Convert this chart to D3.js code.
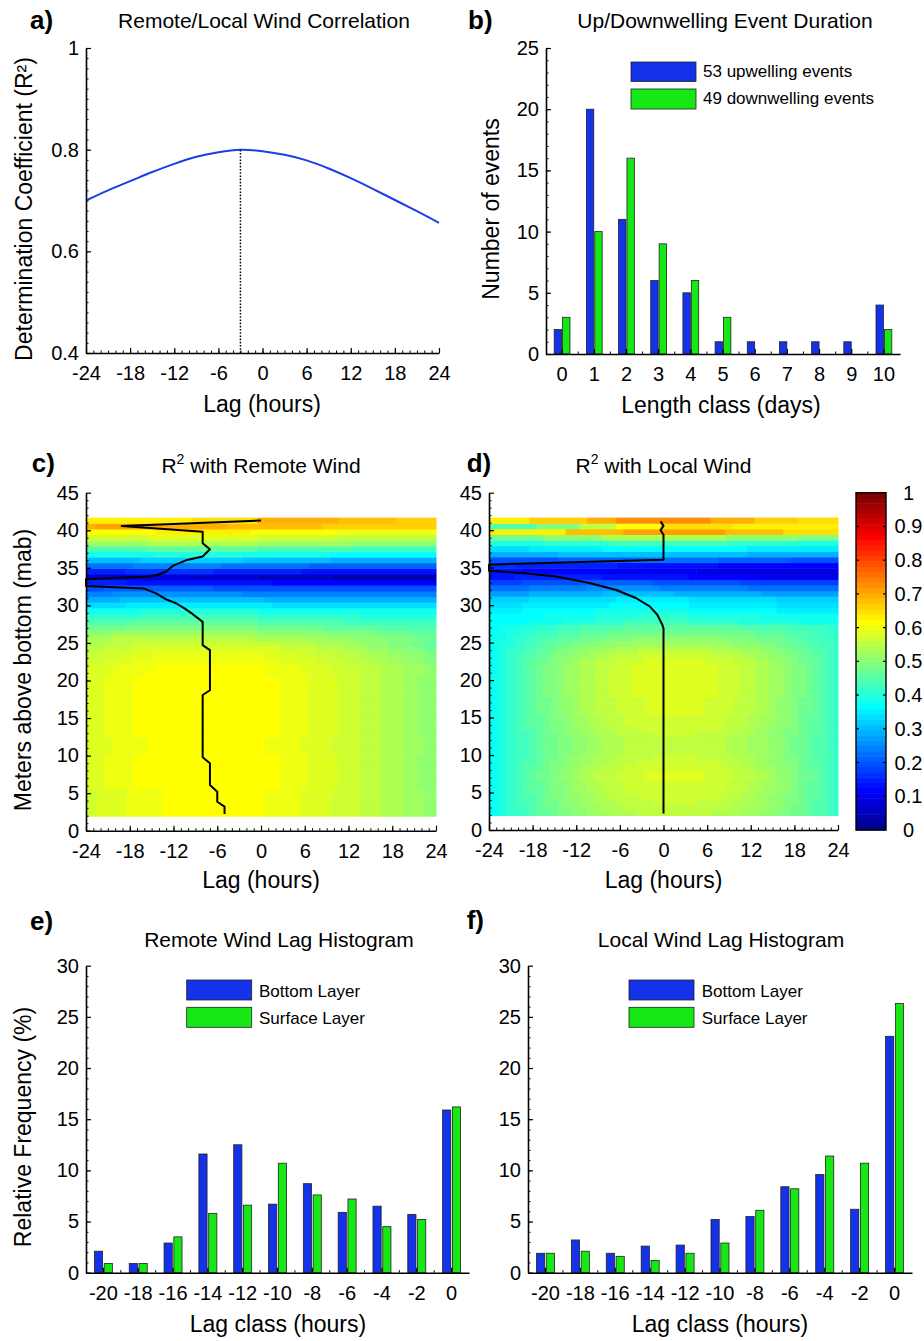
<!DOCTYPE html>
<html><head><meta charset="utf-8">
<script src="https://cdn.jsdelivr.net/npm/d3@7"></script>
<style>body{margin:0;background:#fff}</style>
</head><body>
<svg id="fig" width="924" height="1341" xmlns="http://www.w3.org/2000/svg"></svg>
<script>
// ================= DATA =================
// a) Remote/Local wind correlation vs lag
const corrLags = [-24,-21,-18,-15,-12,-9,-6,-3,0,3,6,9,12,15,18,21,24];
const corrR2   = [0.700,0.720,0.738,0.756,0.772,0.786,0.795,0.800,0.797,0.790,0.779,0.763,0.744,0.723,0.701,0.679,0.656];
const corrPeakLag = -3, corrPeakR2 = 0.800;

// b) event duration histogram
const lengthClasses = [0,1,2,3,4,5,6,7,8,9,10];
const upwellingEvents   = [2,20,11,6,5,1,1,1,1,1,4];
const downwellingEvents = [3,10,16,9,6,3,0,0,0,0,2];
const durationLegend = ["53 upwelling events","49 downwelling events"];

// e/f) lag histograms (%)
const lagClasses = [-20,-18,-16,-14,-12,-10,-8,-6,-4,-2,0];
const remoteBottom  = [2.1,0.9,2.9,11.6,12.5,6.7,8.7,5.9,6.5,5.7,15.9];
const remoteSurface = [0.9,0.9,3.5,5.8,6.6,10.7,7.6,7.2,4.5,5.2,16.2];
const localBottom   = [1.9,3.2,1.9,2.6,2.7,5.2,5.5,8.4,9.6,6.2,23.1];
const localSurface  = [1.9,2.1,1.6,1.2,1.9,2.9,6.1,8.2,11.4,10.7,26.3];
const layerLegend = ["Bottom Layer","Surface Layer"];

// c/d) R2 maps: lag columns, depth bins (mab)
const heatLags = [-24,-23,-22,-21,-20,-19,-18,-17,-16,-15,-14,-13,-12,-11,-10,-9,-8,-7,-6,-5,-4,-3,-2,-1,0,1,2,3,4,5,6,7,8,9,10,11,12,13,14,15,16,17,18,19,20,21,22,23,24];
const depthBins = [2.3,3.05,3.8,4.55,5.3,6.05,6.8,7.55,8.3,9.05,9.8,10.55,11.3,12.05,12.8,13.55,14.3,15.05,15.8,16.55,17.3,18.05,18.8,19.55,20.3,21.05,21.8,22.55,23.3,24.05,24.8,25.55,26.3,27.05,27.8,28.55,29.3,30.05,30.8,31.55,32.3,33.05,33.8,34.55,35.3,36.05,36.8,37.55,38.3,39.05,39.8,40.55,41.3];
const binHalf = 0.375;
// each row: run-length pairs [level, count,...] along heatLags; R2 = (level+0.5)/64
const rA=[36,2,37,4,38,5,39,14,38,5,37,4,36,4,35,3,34,3,33,3,32,2];
const rB=[37,3,38,4,39,20,38,4,37,4,36,3,35,3,34,3,33,2,32,3];
const rW=[37,4,38,5,39,16,38,5,37,4,36,4,35,3,34,3,33,3,32,2];
const remoteR2Rows = [rA,rA,rA,rA,rA, rB,rB,rB,rB,rB,rB, rW,rW,rW, rB,rB,rB,rB,rB,rB,rB,rB,rB,rB,rB, rW,
 [36,1,37,4,38,5,39,15,38,5,37,4,36,4,35,3,34,3,33,3,32,2],
 [36,3,37,4,38,20,37,5,36,4,35,3,34,3,33,3,32,2,31,2],
 [35,1,36,4,37,5,38,15,37,5,36,4,35,4,34,3,33,3,32,3,31,2],
 [35,3,36,4,37,20,36,5,35,4,34,3,33,3,32,3,31,2,30,2],
 [34,3,35,4,36,20,35,5,34,4,33,3,32,3,31,3,30,2,29,2],
 [34,4,35,19,34,8,33,6,32,5,31,4,30,3],
 [32,4,33,20,32,9,31,7,30,5,29,4],
 [30,6,31,18,30,9,29,8,28,8],
 [28,7,29,17,28,12,27,13],
 [26,8,27,16,26,14,25,11],
 [24,8,25,16,24,25],
 [21,6,22,20,21,23],
 [18,5,19,20,18,24],
 [15,4,16,18,15,27],
 [12,3,13,15,12,31],
 [9,6,8,20,7,23],
 [4,4,5,10,4,10,3,10,2,15],
 [9,6,10,12,9,12,8,19],
 [14,7,15,12,14,12,13,18],
 [19,8,20,14,19,12,18,15],
 [24,10,25,12,24,12,23,15],
 [28,9,29,15,28,13,27,12],
 [33,9,34,15,33,13,32,12],
 [36,9,37,15,36,11,35,14],
 [39,10,40,13,39,12,38,14],
 [44,2,45,8,44,10,43,13,42,16],
 [40,15,41,9,44,11,43,8,42,6]
];
const lA=[23,2,24,2,25,3,26,3,27,3,28,6,29,16,28,7,27,5,26,2];
const lB=[23,1,24,2,25,2,26,2,27,3,28,3,29,4,30,20,29,4,28,3,27,3,26,2];
const lC=[23,1,24,2,25,1,26,2,27,2,28,2,29,3,30,3,31,4,32,13,31,4,30,4,29,2,28,2,27,3,26,1];
const lD=[23,1,24,1,25,2,26,1,27,2,28,1,29,2,30,2,31,3,32,3,33,16,32,4,31,2,30,2,29,2,28,2,27,2,26,1];
const lE=[23,1,24,1,25,1,26,2,27,1,28,1,29,2,30,2,31,2,32,2,33,3,34,4,35,8,34,5,33,3,32,2,31,2,30,1,29,2,28,2,27,1,26,1];
const lF=[23,1,24,1,25,1,26,2,27,1,28,1,29,2,30,1,31,2,32,2,33,3,34,4,35,10,34,4,33,3,32,2,31,2,30,2,29,1,28,2,27,1,26,1];
const lG=[23,1,24,1,25,1,26,1,27,2,28,1,29,1,30,2,31,2,32,2,33,2,34,3,35,14,34,3,33,3,32,2,31,1,30,2,29,1,28,2,27,1,26,1];
const lH=[23,1,24,1,25,1,26,1,27,2,28,1,29,1,30,2,31,1,32,2,33,2,34,3,35,5,36,6,35,5,34,3,33,2,32,2,31,2,30,1,29,1,28,2,27,1,26,1];
const lI=[23,1,24,1,25,1,26,1,27,1,28,2,29,1,30,1,31,2,32,2,33,2,34,2,35,4,36,11,35,3,34,2,33,2,32,2,31,2,30,1,29,2,28,1,27,1,26,1];
const lJ=[23,1,24,1,25,1,26,1,27,1,28,1,29,2,30,1,31,2,32,1,33,2,34,2,35,3,36,14,35,3,34,2,33,2,32,2,31,1,30,1,29,2,28,1,27,1,26,1];
const lK=[23,1,24,1,25,1,26,1,27,1,28,1,29,1,30,2,31,1,32,2,33,1,34,2,35,3,36,4,37,8,36,4,35,3,34,2,33,1,32,2,31,1,30,2,29,1,28,1,27,1,26,1];
const lL=[23,1,24,1,25,1,26,1,27,1,28,1,29,1,30,1,31,2,32,1,33,2,34,2,35,2,36,3,37,12,36,3,35,2,34,2,33,2,32,1,31,2,30,1,29,1,28,1,27,1,26,1];
const localR2Rows = [lF,lG,lH,lI,lJ,lJ,lK,lK,lJ,lI,lH,lG,lG,lG,lH,lI,lJ,lJ,lK,lK,lK,lL,lL,lL,lL,lL,lL,lK,lI,lF,lD,lC,lB,lA,
 [23,6,24,5,25,4,26,4,27,9,26,7,25,8,24,6],
 [23,8,24,7,25,6,26,7,25,10,24,11],
 [22,5,23,10,24,13,23,12,22,9],
 [21,5,22,12,23,11,22,12,21,9],
 [20,6,21,12,22,10,21,12,20,9],
 [17,6,18,10,19,10,18,12,17,11],
 [14,6,15,8,16,10,15,12,14,13],
 [11,5,12,8,13,10,12,12,11,14],
 [8,4,9,12,8,12,7,10,6,11],
 [8,5,7,12,6,12,5,20],
 [10,4,9,14,8,14,7,17],
 [12,10,13,10,14,12,13,10,12,7],
 [18,10,19,26,18,13],
 [21,6,22,10,23,20,22,13],
 [25,8,26,9,27,17,26,9,25,6],
 [30,8,32,8,34,17,32,10,31,6],
 [40,11,43,8,45,14,43,8,41,8],
 [28,7,31,6,35,5,39,6,41,10,40,15],
 [40,6,42,8,44,4,46,13,44,6,42,6,41,6]
];
// lag of maximum R2 per depth (black lines)
const remoteMaxDepth = [41.3,40.57,39.8,38.27,37.47,36.5,36.0,35.25,34.5,34.05,33.83,33.47,32.58,32.23,31.6,30.8,30.28,29.6,28.86,27.8,24.7,24.05,18.7,18.07,9.77,8.97,6.08,5.19,3.86,3.2,2.22];
const remoteMaxLag   = [0,-19.1,-8,-8,-7,-8,-10.3,-12.1,-13,-14.2,-15.3,-24,-24,-16,-14.4,-13,-11.65,-10.5,-9.4,-8,-8,-7,-7,-8,-8,-7,-7,-6,-6,-5,-5];
const localMaxDepth  = [41.17,40.58,40.0,39.4,36.06,35.4,34.6,34.28,33.83,32.95,32.05,30.95,29.83,28.72,27.39,26.9,2.2];
const localMaxLag    = [-0.4,0,-0.4,0,0,-24,-24,-19.4,-14.8,-10.2,-6.6,-3.8,-1.9,-0.85,-0.16,0,0];

// tick labels
const lagTicks = [-24,-18,-12,-6,0,6,12,18,24];
const r2Ticks = [0.4,0.6,0.8,1];
const eventTicks = [0,5,10,15,20,25];
const mabTicks = [0,5,10,15,20,25,30,35,40,45];
const freqTicks = [0,5,10,15,20,25,30];
const cbTicks = [0,0.1,0.2,0.3,0.4,0.5,0.6,0.7,0.8,0.9,1];
const cbLabels = ["0","0.1","0.2","0.3","0.4","0.5","0.6","0.7","0.8","0.9","1"];

// ================= DRAWING =================
const FONT = '"Liberation Sans", Arial, Helvetica, sans-serif';
const BLUE = "#1432ea", GREEN = "#16e816", LINEBLUE = "#1e3de6";
const svg = d3.select("#fig");

function jet64(k){
  let r,g,b;
  if(k<=7){r=0;g=0;b=(k+9)/16;}
  else if(k<=23){r=0;g=(k-7)/16;b=1;}
  else if(k<=39){r=(k-23)/16;g=1;b=1-(k-23)/16;}
  else if(k<=55){r=1;g=1-(k-39)/16;b=0;}
  else {r=1-(k-55)/16;g=0;b=0;}
  return d3.rgb(r*255,g*255,b*255).formatHex();
}
const jetColor = d3.scaleQuantize().domain([0,1]).range(d3.range(64).map(jet64));

function styleAxis(g, fs){
  g.select(".domain").attr("stroke","#000").attr("stroke-width",1.6);
  g.selectAll(".tick line").attr("stroke","#000").attr("stroke-width",1.2);
  g.selectAll(".tick text").attr("font-size",fs||20).attr("font-family",FONT).attr("fill","#000");
}
function yAxis(scale, x0, major, fmt, minor){
  if(minor){
    const m = svg.append("g").attr("transform",`translate(${x0},0)`)
      .call(d3.axisLeft(scale).tickValues(minor).tickSizeInner(-2.5).tickSizeOuter(0).tickFormat(""));
    m.select(".domain").remove(); m.selectAll("line").attr("stroke","#000").attr("stroke-width",1);
  }
  const g = svg.append("g").attr("transform",`translate(${x0},0)`)
    .call(d3.axisLeft(scale).tickValues(major).tickFormat(fmt).tickSizeInner(-5).tickSizeOuter(0).tickPadding(7));
  styleAxis(g); return g;
}
function xAxis(scale, y0, major, fmt, minor){
  if(minor){
    const m = svg.append("g").attr("transform",`translate(0,${y0})`)
      .call(d3.axisBottom(scale).tickValues(minor).tickSizeInner(-2.5).tickSizeOuter(0).tickFormat(""));
    m.select(".domain").remove(); m.selectAll("line").attr("stroke","#000").attr("stroke-width",1);
  }
  const g = svg.append("g").attr("transform",`translate(0,${y0})`)
    .call(d3.axisBottom(scale).tickValues(major).tickFormat(fmt).tickSizeInner(-5).tickSizeOuter(0).tickPadding(13));
  styleAxis(g); return g;
}
function bandMinor(xb, y0){
  xb.domain().slice(1).forEach(c=>{
    svg.append("line").attr("x1",xb(c)).attr("x2",xb(c)).attr("y1",y0).attr("y2",y0-2.5)
      .attr("stroke","#000").attr("stroke-width",1);
  });
}
function txt(x,y,s,opts){
  opts = opts||{};
  const t = svg.append("text").attr("x",x).attr("y",y).text(s)
    .attr("font-family",FONT).attr("font-size",opts.fs||20).attr("fill","#000")
    .attr("text-anchor",opts.anchor||"middle");
  if(opts.bold) t.attr("font-weight","bold");
  return t;
}
function ylabel(x,y,s){
  svg.append("text").attr("transform",`translate(${x},${y}) rotate(-90)`).attr("text-anchor","middle")
    .attr("font-family",FONT).attr("font-size",23).attr("fill","#000").text(s);
}
function supTitle(x,y,rest){
  const t = svg.append("text").attr("x",x).attr("y",y).attr("text-anchor","middle")
    .attr("font-family",FONT).attr("font-size",21).attr("fill","#000");
  t.append("tspan").text("R");
  t.append("tspan").attr("font-size",14).attr("dy",-9).text("2");
  t.append("tspan").attr("dy",9).text(rest);
}
const fmtInt = d=>String(d);
const TFS = 21;

// ---------- panel a ----------
{
  const x = d3.scaleLinear().domain([-24,24]).range([86,439]);
  const y = d3.scaleLinear().domain([0.4,1]).range([353,48]);
  svg.append("path").datum(corrLags.map((l,i)=>[l,corrR2[i]]))
    .attr("d", d3.line().x(d=>x(d[0])).y(d=>y(d[1])).curve(d3.curveNatural))
    .attr("fill","none").attr("stroke",LINEBLUE).attr("stroke-width",2);
  svg.append("line").attr("x1",x(corrPeakLag)).attr("x2",x(corrPeakLag)).attr("y1",y(0.4)).attr("y2",y(corrPeakR2))
    .attr("stroke","#000").attr("stroke-width",1.5).attr("stroke-dasharray","1.6,1.6");
  yAxis(y, 86, r2Ticks, d=>d===1?"1":d.toFixed(1), d3.range(0.42,1.0,0.02));
  xAxis(x, 353, lagTicks, fmtInt, d3.range(-23,24,1));
  txt(30,29,"a)",{fs:26,bold:true,anchor:"start"});
  txt(264,28,"Remote/Local Wind Correlation",{fs:TFS});
  txt(262,412,"Lag (hours)",{fs:23});
  ylabel(32,209,"Determination Coefficient (R\u00B2)");
}

// ---------- panel b ----------
{
  const x = d3.scaleBand().domain(lengthClasses).range([546,900]);
  const y = d3.scaleLinear().domain([0,25]).range([354,48]);
  const bw = x.bandwidth()*0.23;
  lengthClasses.forEach((c,i)=>{
    const cx = x(c)+x.bandwidth()/2;
    if(upwellingEvents[i]>0) svg.append("rect").attr("x",cx-bw-0.5).attr("y",y(upwellingEvents[i])).attr("width",bw)
      .attr("height",y(0)-y(upwellingEvents[i])).attr("fill",BLUE).attr("stroke","#222").attr("stroke-width",0.8);
    if(downwellingEvents[i]>0) svg.append("rect").attr("x",cx+0.5).attr("y",y(downwellingEvents[i])).attr("width",bw)
      .attr("height",y(0)-y(downwellingEvents[i])).attr("fill",GREEN).attr("stroke","#222").attr("stroke-width",0.8);
  });
  yAxis(y, 546, eventTicks, fmtInt, d3.range(1,25,1));
  xAxis(x, 354, lengthClasses, fmtInt, null);
  bandMinor(x, 354);
  // legend
  svg.append("rect").attr("x",631).attr("y",62).attr("width",65).attr("height",19.5).attr("fill",BLUE).attr("stroke","#222").attr("stroke-width",0.8);
  svg.append("rect").attr("x",631).attr("y",89).attr("width",65).attr("height",20).attr("fill",GREEN).attr("stroke","#222").attr("stroke-width",0.8);
  txt(703,77,durationLegend[0],{fs:17,anchor:"start"});
  txt(703,104,durationLegend[1],{fs:17,anchor:"start"});
  txt(468,29,"b)",{fs:26,bold:true,anchor:"start"});
  txt(725,28,"Up/Downwelling Event Duration",{fs:TFS});
  txt(721,413,"Length class (days)",{fs:23});
  ylabel(499,209,"Number of events");
}

// ---------- heat maps ----------
function drawHeat(x, y, rows){
  const g = svg.append("g");
  rows.forEach((runs,j)=>{
    const z = depthBins[j];
    const yTop = y(z+binHalf), yBot = y(z-binHalf);
    let col = 0;
    for(let p=0;p<runs.length;p+=2){
      const k = runs[p], n = runs[p+1];
      if(col>48) break;
      const last = Math.min(col+n-1,48);
      const x0 = x(Math.max(-24, heatLags[col]-0.5)), x1 = x(Math.min(24, heatLags[last]+0.5));
      g.append("rect").attr("x",x0).attr("y",yTop).attr("width",x1-x0+0.5).attr("height",yBot-yTop+0.5)
        .attr("fill",jetColor((k+0.5)/64));
      col += n;
    }
  });
}
function maxLine(x,y,depths,lags){
  svg.append("path").datum(depths.map((d,i)=>[lags[i],d]))
    .attr("d", d3.line().x(d=>x(d[0])).y(d=>y(d[1])))
    .attr("fill","none").attr("stroke","#000").attr("stroke-width",2).attr("stroke-linejoin","round");
}
// panel c
{
  const x = d3.scaleLinear().domain([-24,24]).range([86,436]);
  const y = d3.scaleLinear().domain([0,45]).range([830.7,492.7]);
  drawHeat(x,y,remoteR2Rows);
  maxLine(x,y,remoteMaxDepth,remoteMaxLag);
  yAxis(y, 86, mabTicks, fmtInt, d3.range(1,45,1));
  xAxis(x, 830.7, lagTicks, fmtInt, d3.range(-23,24,1));
  txt(31.7,472,"c)",{fs:26,bold:true,anchor:"start"});
  supTitle(261,473," with Remote Wind");
  txt(261,888,"Lag (hours)",{fs:23});
  ylabel(31,670,"Meters above bottom (mab)");
}
// panel d
{
  const x = d3.scaleLinear().domain([-24,24]).range([489,838]);
  const y = d3.scaleLinear().domain([0,45]).range([830,492.7]);
  drawHeat(x,y,localR2Rows);
  maxLine(x,y,localMaxDepth,localMaxLag);
  yAxis(y, 489, mabTicks, fmtInt, d3.range(1,45,1));
  xAxis(x, 830, lagTicks, fmtInt, d3.range(-23,24,1));
  txt(466.7,472,"d)",{fs:26,bold:true,anchor:"start"});
  supTitle(663.5,473," with Local Wind");
  txt(663.5,888,"Lag (hours)",{fs:23});
}
// colorbar
{
  const y = d3.scaleLinear().domain([0,1]).range([830,492.7]);
  const x0 = 856, x1 = 886;
  d3.range(64).forEach(k=>{
    svg.append("rect").attr("x",x0).attr("width",x1-x0).attr("y",y((k+1)/64)).attr("height",y(k/64)-y((k+1)/64)+0.5)
      .attr("fill",jetColor((k+0.5)/64));
  });
  svg.append("rect").attr("x",x0).attr("y",y(1)).attr("width",x1-x0).attr("height",y(0)-y(1))
    .attr("fill","none").attr("stroke","#000").attr("stroke-width",1.4);
  cbTicks.forEach((v,i)=>{
    if(v>0 && v<1){
      svg.append("line").attr("x1",x0).attr("x2",x0+3).attr("y1",y(v)).attr("y2",y(v)).attr("stroke","#000").attr("stroke-width",1.2);
      svg.append("line").attr("x1",x1-3).attr("x2",x1).attr("y1",y(v)).attr("y2",y(v)).attr("stroke","#000").attr("stroke-width",1.2);
    }
    txt(908.5,y(v)+7,cbLabels[i]);
  });
}

// ---------- lag histograms ----------
function lagHist(xr, bottom, surface, legendX, textX){
  const x = d3.scaleBand().domain(lagClasses).range(xr);
  const y = d3.scaleLinear().domain([0,30]).range([1272.7,965.7]);
  const bw = x.bandwidth()*0.235;
  lagClasses.forEach((c,i)=>{
    const cx = x(c)+x.bandwidth()/2;
    svg.append("rect").attr("x",cx-bw-0.8).attr("y",y(bottom[i])).attr("width",bw).attr("height",y(0)-y(bottom[i]))
      .attr("fill",BLUE).attr("stroke","#222").attr("stroke-width",0.8);
    svg.append("rect").attr("x",cx+0.8).attr("y",y(surface[i])).attr("width",bw).attr("height",y(0)-y(surface[i]))
      .attr("fill",GREEN).attr("stroke","#222").attr("stroke-width",0.8);
  });
  yAxis(y, xr[0], freqTicks, fmtInt, d3.range(1,30,1));
  xAxis(x, 1272.7, lagClasses, fmtInt, null);
  bandMinor(x, 1272.7);
  svg.append("rect").attr("x",legendX).attr("y",980).attr("width",65).attr("height",20).attr("fill",BLUE).attr("stroke","#222").attr("stroke-width",0.8);
  svg.append("rect").attr("x",legendX).attr("y",1007.3).attr("width",65).attr("height",20).attr("fill",GREEN).attr("stroke","#222").attr("stroke-width",0.8);
  txt(textX,997,layerLegend[0],{fs:17,anchor:"start"});
  txt(textX,1024,layerLegend[1],{fs:17,anchor:"start"});
}
lagHist([86,469], remoteBottom, remoteSurface, 186.7, 259);
txt(30,930,"e)",{fs:26,bold:true,anchor:"start"});
txt(279,947,"Remote Wind Lag Histogram",{fs:TFS});
txt(278,1332,"Lag class (hours)",{fs:23});
ylabel(31,1127,"Relative Frequency (%)");

lagHist([528,912], localBottom, localSurface, 629, 701.7);
txt(466.7,929,"f)",{fs:26,bold:true,anchor:"start"});
txt(721,947,"Local Wind Lag Histogram",{fs:TFS});
txt(720,1332,"Lag class (hours)",{fs:23});
</script>
</body></html>
